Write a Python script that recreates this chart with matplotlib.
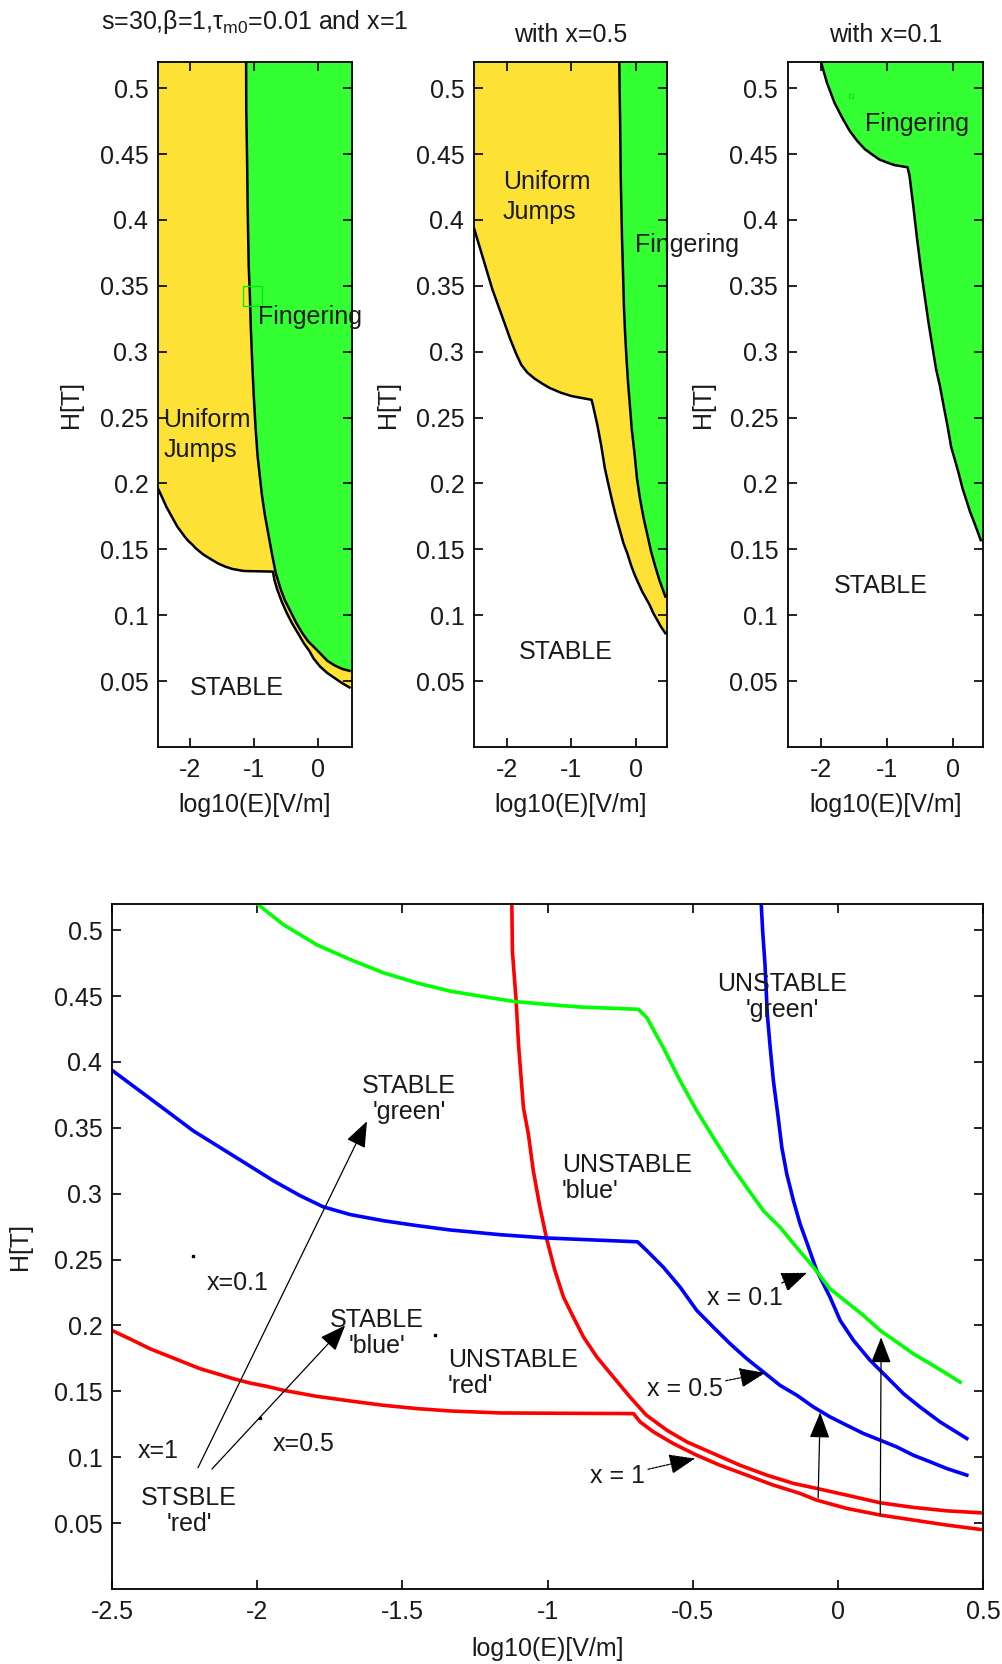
import matplotlib
matplotlib.use("Agg")
import matplotlib.pyplot as plt
from matplotlib.patches import Rectangle

plt.rcParams['font.family'] = ['Liberation Sans', 'DejaVu Sans']
plt.rcParams['mathtext.fontset'] = 'custom'
plt.rcParams['mathtext.rm'] = 'Liberation Sans'
plt.rcParams['font.size'] = 18

# ---- boundary curves (log10(E), H) ----
# x = 1 (red): lower (stable) boundary and fingering boundary
RED_STABLE_X = [-2.5, -2.427, -2.369, -2.312, -2.254, -2.197, -2.139, -2.082, -2.025, -1.967,
                -1.910, -1.795, -1.680, -1.565, -1.450, -1.336, -1.163, -1.0, -0.704,
                -0.681, -0.635, -0.567, -0.486, -0.406, -0.314, -0.222, -0.130, -0.073,
                0.031, 0.146, 0.260, 0.375, 0.490]
RED_STABLE_Y = [0.1962, 0.1886, 0.1823, 0.1773, 0.1722, 0.1672, 0.1634, 0.1596, 0.1563, 0.1538,
                0.1508, 0.1462, 0.1427, 0.1394, 0.1369, 0.1351, 0.1336, 0.1334, 0.1331,
                0.1268, 0.1192, 0.1104, 0.1015, 0.0939, 0.0864, 0.0788, 0.0725, 0.0674,
                0.0611, 0.0561, 0.0523, 0.0485, 0.0452]
RED_FINGER_X = [-1.123, -1.121, -1.108, -1.100, -1.092, -1.083, -1.066, -1.049, -1.026, -1.003,
                -0.975, -0.945, -0.911, -0.876, -0.830, -0.773, -0.716, -0.66, -0.589, -0.520,
                -0.429, -0.337, -0.245, -0.153, -0.073, 0.031, 0.146, 0.260, 0.375, 0.490]
RED_FINGER_Y = [0.520, 0.484, 0.446, 0.4134, 0.3907, 0.3654, 0.3452, 0.3174, 0.2896, 0.2657,
                0.2420, 0.2215, 0.2063, 0.1912, 0.1760, 0.1608, 0.1457, 0.1320, 0.1205, 0.1116,
                0.1028, 0.0939, 0.0864, 0.0801, 0.0763, 0.0712, 0.0654, 0.0619, 0.0593, 0.0578]

# x = 0.5 (blue)
BLUE_STABLE_X = [-2.5, -2.404, -2.312, -2.220, -2.128, -2.036, -1.944, -1.852, -1.772, -1.680,
                 -1.565, -1.450, -1.336, -1.163, -1.003, -0.690, -0.658, -0.601, -0.543,
                 -0.486, -0.429, -0.371, -0.314, -0.256, -0.199, -0.141, -0.084, -0.027,
                 0.031, 0.088, 0.146, 0.203, 0.260, 0.318, 0.375, 0.444]
BLUE_STABLE_Y = [0.3937, 0.378, 0.3629, 0.3477, 0.3351, 0.3225, 0.3098, 0.2985, 0.2900, 0.2842,
                 0.2795, 0.2758, 0.2725, 0.2689, 0.2664, 0.2635, 0.2568, 0.2442, 0.229,
                 0.2114, 0.1987, 0.1861, 0.1748, 0.1646, 0.1545, 0.147, 0.1381, 0.1306,
                 0.1242, 0.118, 0.1129, 0.1078, 0.1015, 0.0965, 0.0914, 0.0864]
BLUE_FINGER_X = [-0.264, -0.259, -0.251, -0.243, -0.233, -0.222, -0.207, -0.193, -0.176, -0.153,
                 -0.130, -0.101, -0.073, -0.027, 0.008, 0.054, 0.111, 0.169, 0.226, 0.283,
                 0.352, 0.444]
BLUE_FINGER_Y = [0.520, 0.4992, 0.474, 0.436, 0.4108, 0.3856, 0.3604, 0.3351, 0.315, 0.2947,
                 0.277, 0.2593, 0.2417, 0.2215, 0.2038, 0.1886, 0.1735, 0.1608, 0.1482, 0.1381,
                 0.1268, 0.1142]

# x = 0.1 (green)
GREEN_STABLE_X = [-2.0, -1.910, -1.795, -1.680, -1.565, -1.450, -1.336, -1.232, -1.118, -1.003,
                  -0.888, -0.687, -0.658, -0.601, -0.543, -0.486, -0.429, -0.371, -0.314,
                  -0.256, -0.199, -0.141, -0.084, -0.027, 0.031, 0.088, 0.146, 0.203, 0.260,
                  0.318, 0.375, 0.421]
GREEN_STABLE_Y = [0.520, 0.5043, 0.489, 0.4778, 0.4677, 0.460, 0.4538, 0.450, 0.446, 0.4437,
                  0.4417, 0.440, 0.4336, 0.4108, 0.3856, 0.363, 0.3427, 0.3225, 0.3048,
                  0.287, 0.2745, 0.2590, 0.2442, 0.2278, 0.2177, 0.2076, 0.1962, 0.1874, 0.1785,
                  0.171, 0.1634, 0.157]

# stray marks in the lower plot
DOTS_X = [-2.22, -1.387, -1.99]
DOTS_Y = [0.253, 0.193, 0.130]

YTICKS = [0.05, 0.1, 0.15, 0.2, 0.25, 0.3, 0.35, 0.4, 0.45, 0.5]
YTICKLABELS = ['0.05', '0.1', '0.15', '0.2', '0.25', '0.3', '0.35', '0.4', '0.45', '0.5']
TOP_XTICKS = [-2, -1, 0]
TOP_XTICKLABELS = ['-2', '-1', '0']
BOT_XTICKS = [-2.5, -2, -1.5, -1, -0.5, 0, 0.5]
BOT_XTICKLABELS = ['-2.5', '-2', '-1.5', '-1', '-0.5', '0', '0.5']

YELLOW = '#FDE134'
LIME = '#33FF33'
TXT = '#1a1a1a'
YTOP = 0.52


def style(ax, xlim, xticks, xticklabels, ylabel_x, xlabel_y):
    ax.set_xlim(*xlim)
    ax.set_ylim(0, YTOP)
    ax.set_xticks(xticks, xticklabels)
    ax.set_yticks(YTICKS, YTICKLABELS)
    ax.tick_params(direction='in', top=True, right=True, length=6.5, width=1.2,
                   labelsize=18, labelcolor=TXT)
    ax.tick_params(axis='x', pad=8)
    ax.tick_params(axis='y', pad=7)
    for s in ax.spines.values():
        s.set_linewidth(1.3)
    ax.set_xlabel('log10(E)[V/m]', color=TXT)
    ax.set_ylabel('H[T]', color=TXT)
    ax.yaxis.set_label_coords(ylabel_x, 0.5)
    ax.xaxis.set_label_coords(0.5, xlabel_y)


def region(ax, x, y, color, xmax):
    ax.fill_between(x + [xmax], y + [y[-1]], YTOP, color=color, lw=0, zorder=1)
    ax.plot(x, y, color='k', lw=1.8, zorder=2)


fig = plt.figure(figsize=(10.03, 16.64), dpi=100)

# ---------- top row ----------
ax1 = fig.add_axes([0.1575, 0.5511, 0.1934, 0.4117])
region(ax1, RED_STABLE_X, RED_STABLE_Y, YELLOW, 0.53)
region(ax1, RED_FINGER_X, RED_FINGER_Y, LIME, 0.53)
ax1.add_patch(Rectangle((-1.17, 0.335), 0.3, 0.015, fill=False, ec='#00ee00', lw=1, zorder=3))
style(ax1, (-2.5, 0.53), TOP_XTICKS, TOP_XTICKLABELS, -0.387, -0.067)
ax1.set_title(r's=30,β=1,τ$_{\mathrm{m0}}$=0.01 and x=1', fontsize=18, color=TXT, pad=24)
ax1.text(-0.94, 0.326, 'Fingering', va='center', ha='left', color=TXT, clip_on=False, zorder=5)
ax1.text(-2.42, 0.257, 'Uniform\nJumps', va='top', ha='left', color=TXT, linespacing=1.32, zorder=5)
ax1.text(-1.27, 0.045, 'STABLE', va='center', ha='center', color=TXT)

ax2 = fig.add_axes([0.4726, 0.5511, 0.1924, 0.4117])
region(ax2, BLUE_STABLE_X, BLUE_STABLE_Y, YELLOW, 0.47)
region(ax2, BLUE_FINGER_X, BLUE_FINGER_Y, LIME, 0.47)
style(ax2, (-2.5, 0.47), TOP_XTICKS, TOP_XTICKLABELS, -0.383, -0.067)
ax2.set_title('with x=0.5', fontsize=18, color=TXT, pad=14)
ax2.text(-2.056, 0.438, 'Uniform\nJumps', va='top', ha='left', color=TXT, linespacing=1.32, zorder=5)
ax2.text(-0.02, 0.381, 'Fingering', va='center', ha='left', color=TXT, clip_on=False, zorder=5)
ax2.text(-1.095, 0.072, 'STABLE', va='center', ha='center', color=TXT)

ax3 = fig.add_axes([0.7856, 0.5511, 0.1944, 0.4117])
region(ax3, GREEN_STABLE_X, GREEN_STABLE_Y, LIME, 0.455)
ax3.plot([-1.55], [0.494], 's', mfc='none', mec='#00ee00', ms=3, mew=0.8, zorder=3)
style(ax3, (-2.5, 0.455), TOP_XTICKS, TOP_XTICKLABELS, -0.376, -0.067)
ax3.set_title('with x=0.1', fontsize=18, color=TXT, pad=14)
ax3.text(-1.333, 0.473, 'Fingering', va='center', ha='left', color=TXT, zorder=5)
ax3.text(-1.09, 0.122, 'STABLE', va='center', ha='center', color=TXT)

# ---------- bottom comparison ----------
ax = fig.add_axes([0.1117, 0.0451, 0.8684, 0.4117])
lw = 2.6
ax.plot(RED_STABLE_X, RED_STABLE_Y, color='#ff0000', lw=lw)
ax.plot(RED_FINGER_X, RED_FINGER_Y, color='#ff0000', lw=lw)
ax.plot(BLUE_STABLE_X, BLUE_STABLE_Y, color='#0000ff', lw=lw)
ax.plot(BLUE_FINGER_X, BLUE_FINGER_Y, color='#0000ff', lw=lw)
ax.plot(GREEN_STABLE_X, GREEN_STABLE_Y, color='#00ff00', lw=lw)
ax.plot(DOTS_X, DOTS_Y, 's', color='k', ms=1.8)
style(ax, (-2.5, 0.5), BOT_XTICKS, BOT_XTICKLABELS, -0.092, -0.07)

ax.text(-0.192, 0.449, "UNSTABLE\n'green'", ha='center', va='center', color=TXT, linespacing=1.1)
ax.text(-0.95, 0.312, "UNSTABLE\n'blue'", ha='left', va='center', color=TXT, linespacing=1.1)
ax.text(-1.477, 0.372, "STABLE\n'green'", ha='center', va='center', color=TXT, linespacing=1.1)
ax.text(-1.587, 0.194, "STABLE\n'blue'", ha='center', va='center', color=TXT, linespacing=1.1)
ax.text(-1.343, 0.164, "UNSTABLE\n'red'", ha='left', va='center', color=TXT, linespacing=1.1)
ax.text(-2.235, 0.059, "STSBLE\n'red'", ha='center', va='center', color=TXT, linespacing=1.1)
ax.text(-2.173, 0.2326, 'x=0.1', ha='left', va='center', color=TXT)
ax.text(-2.41, 0.1045, 'x=1', ha='left', va='center', color=TXT)
ax.text(-1.945, 0.110, 'x=0.5', ha='left', va='center', color=TXT)

arrow = dict(arrowstyle='-|>,head_length=0.9,head_width=0.35', color='k', lw=0.9,
             shrinkA=0, shrinkB=0, mutation_scale=18)
ax.annotate('', xy=(-1.622, 0.355), xytext=(-2.204, 0.092), arrowprops=arrow)
ax.annotate('', xy=(-1.697, 0.200), xytext=(-2.156, 0.091), arrowprops=arrow)
ax.annotate('', xy=(-0.061, 0.134), xytext=(-0.068, 0.069), arrowprops=arrow)
ax.annotate('', xy=(0.149, 0.191), xytext=(0.146, 0.056), arrowprops=arrow)

ax.annotate('x = 0.1', xy=(-0.106, 0.240), xytext=(-0.45, 0.221), va='center', color=TXT,
            arrowprops=dict(arrow, linestyle=(0, (2, 1))))
ax.annotate('x = 0.5', xy=(-0.25, 0.164), xytext=(-0.657, 0.152), va='center', color=TXT,
            arrowprops=dict(arrow, linestyle=(0, (2, 1))))
ax.annotate('x = 1', xy=(-0.492, 0.099), xytext=(-0.853, 0.0856), va='center', color=TXT,
            arrowprops=dict(arrow, linestyle=(0, (2, 1))))

fig.savefig('out.png', dpi=100)
